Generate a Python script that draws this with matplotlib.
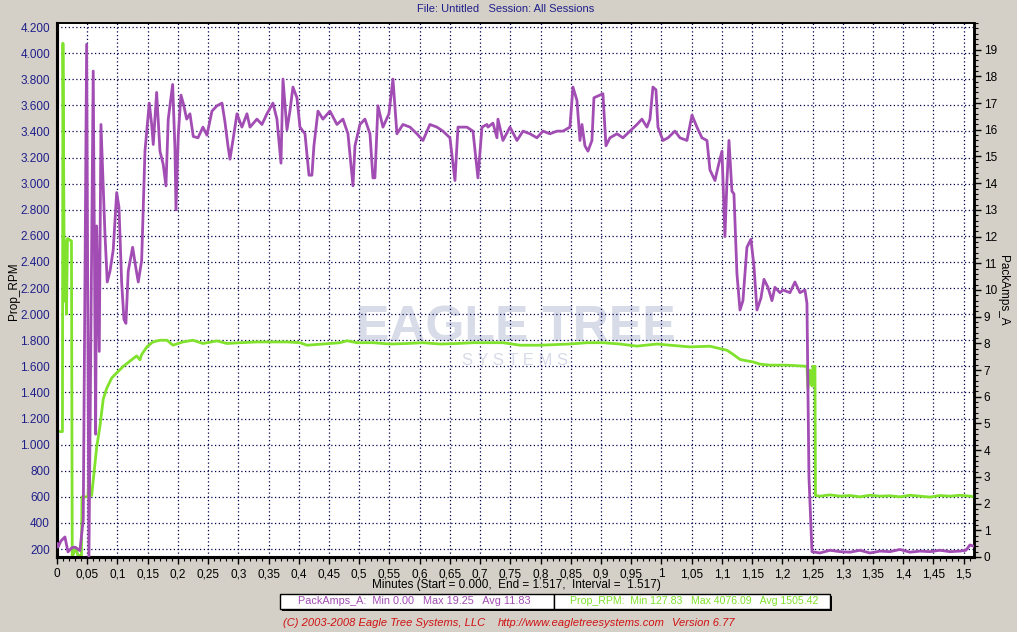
import numpy as np
import matplotlib.pyplot as plt
from matplotlib.ticker import FixedLocator, MultipleLocator, FuncFormatter
from matplotlib.patches import Rectangle

plt.rcParams['font.family'] = ['Liberation Sans', 'DejaVu Sans']

# PackAmps_A (right axis), minutes vs amps
amps_t = [0.000, 0.0017, 0.0066, 0.0132, 0.0182, 0.0248, 0.0298, 0.0380, 0.0435, 0.0463,
          0.0491, 0.0529, 0.0600, 0.0640, 0.0657, 0.0700, 0.0728, 0.0756, 0.0794, 0.0832,
          0.0877, 0.0931, 0.0988, 0.1026, 0.1070, 0.1108, 0.1141, 0.1179, 0.1252, 0.1307,
          0.1345, 0.1401, 0.1456, 0.1527, 0.1567, 0.1593, 0.1649, 0.1704, 0.1758, 0.1803,
          0.1841, 0.1914, 0.1952, 0.1969, 0.2007, 0.2051, 0.2089, 0.2146, 0.2200, 0.2255,
          0.2333, 0.2415, 0.2481, 0.2564, 0.2647, 0.2730, 0.2779, 0.2829, 0.2862, 0.2911,
          0.2978, 0.3060, 0.3143, 0.3193, 0.3308, 0.3391, 0.3474, 0.3573, 0.3639, 0.3706,
          0.3739, 0.3805, 0.3854, 0.3904, 0.3970, 0.4020, 0.4103, 0.4169, 0.4218, 0.4251,
          0.4318, 0.4400, 0.4516, 0.4632, 0.4731, 0.4814, 0.4897, 0.4930, 0.5012, 0.5095,
          0.5178, 0.5227, 0.5260, 0.5310, 0.5393, 0.5492, 0.5558, 0.5624, 0.5724, 0.5840,
          0.5955, 0.6055, 0.6170, 0.6286, 0.6385, 0.6501, 0.6584, 0.6634, 0.6782, 0.6882,
          0.6964, 0.7031, 0.7113, 0.7130, 0.7213, 0.7279, 0.7295, 0.7378, 0.7494, 0.7610,
          0.7709, 0.7825, 0.7940, 0.8040, 0.8155, 0.8271, 0.8371, 0.8486, 0.8536, 0.8602,
          0.8652, 0.8685, 0.8734, 0.8784, 0.8850, 0.8883, 0.8983, 0.9032, 0.9082, 0.9148,
          0.9264, 0.9363, 0.9479, 0.9595, 0.9677, 0.9760, 0.9810, 0.9859, 0.9909, 0.9942,
          1.0025, 1.0108, 1.0223, 1.0306, 1.0422, 1.0505, 1.0587, 1.0670, 1.0753, 1.0802,
          1.0885, 1.0935, 1.1001, 1.1050, 1.1084, 1.1117, 1.1166, 1.1199, 1.1249, 1.1299,
          1.1348, 1.1414, 1.1480, 1.1530, 1.1580, 1.1646, 1.1696, 1.1762, 1.1828, 1.1877,
          1.1960, 1.2010, 1.2126, 1.2208, 1.2291, 1.2374, 1.2407, 1.2440, 1.2490, 1.2622,
          1.2787, 1.2953, 1.3118, 1.3284, 1.3449, 1.3615, 1.3780, 1.3945, 1.4111, 1.4276,
          1.4442, 1.4607, 1.4773, 1.4938, 1.5037, 1.5103, 1.5170]
amps = [0.5, 0.37, 0.6, 0.75, 0.19, 0.35, 0.37, 0.24, 1.4, 10.6,
        19.2, 0.0, 18.2, 4.6, 12.4, 7.7, 16.2, 14.5, 12.1, 10.3,
        10.7, 11.5, 13.65, 13.1, 10.3, 8.9, 8.75, 10.7, 11.6, 10.8,
        10.3, 11.1, 15.2, 17.0, 16.2, 15.45, 17.4, 15.2, 14.7, 13.9,
        16.4, 17.7, 15.3, 13.0, 15.8, 17.3, 17.0, 16.4, 16.6, 15.75,
        15.7, 16.1, 15.8, 16.7, 16.9, 17.0, 16.3, 15.4, 14.9, 15.6,
        16.6, 16.1, 16.6, 16.1, 16.4, 16.2, 16.6, 17.0, 16.4, 14.75,
        17.9, 16.0, 16.7, 17.6, 17.2, 16.1, 15.85, 14.3, 14.3, 15.4,
        16.7, 16.4, 16.7, 16.2, 16.4, 15.85, 13.9, 15.4, 16.2, 16.4,
        15.85, 14.2, 14.2, 16.9, 16.1, 16.6, 17.9, 15.85, 16.2, 16.1,
        15.85, 15.6, 16.2, 16.1, 15.95, 15.7, 14.1, 16.1, 16.1, 15.95,
        14.2, 16.1, 16.2, 16.1, 16.25, 15.7, 16.4, 15.6, 16.1, 15.6,
        15.95, 15.85, 15.7, 15.95, 15.85, 15.95, 15.95, 16.1, 17.6, 17.1,
        15.6, 16.2, 15.4, 15.2, 15.6, 17.2, 17.3, 17.35, 15.4, 15.7,
        15.85, 15.7, 15.95, 16.2, 16.4, 16.1, 16.4, 17.6, 17.5, 16.1,
        15.6, 15.7, 15.95, 15.7, 15.6, 16.55, 16.1, 15.7, 15.6, 14.5,
        14.1, 14.6, 15.2, 12.0, 14.1, 15.6, 13.7, 13.6, 10.6, 9.25,
        9.6, 11.6, 11.9, 10.9, 9.25, 9.7, 10.4, 10.1, 9.6, 10.1,
        9.9, 10.0, 9.9, 10.3, 9.9, 10.0, 9.5, 3.0, 0.2, 0.15,
        0.25, 0.2, 0.18, 0.25, 0.15, 0.22, 0.2, 0.28, 0.18, 0.22,
        0.2, 0.25, 0.2, 0.22, 0.25, 0.45, 0.4]

# Prop_RPM (left axis), minutes vs rpm
rpm_t = [0.000, 0.0091, 0.0099, 0.0124, 0.0141, 0.0157, 0.0174, 0.0240, 0.0253, 0.0314,
         0.0347, 0.0405, 0.0414, 0.0513, 0.0529, 0.0554, 0.0574, 0.0657, 0.0711, 0.0766,
         0.0822, 0.0905, 0.0988, 0.1097, 0.1208, 0.1318, 0.1373, 0.1401, 0.1489, 0.1588,
         0.1704, 0.1820, 0.1919, 0.2084, 0.2250, 0.2415, 0.2647, 0.2812, 0.3027, 0.3308,
         0.3573, 0.3805, 0.4020, 0.4136, 0.4400, 0.4681, 0.4797, 0.4963, 0.5227, 0.5509,
         0.5790, 0.6055, 0.6336, 0.6617, 0.6882, 0.7378, 0.7659, 0.7990, 0.8486, 0.8767,
         0.9032, 0.9313, 0.9595, 0.9926, 1.0141, 1.0471, 1.0802, 1.0968, 1.1084, 1.1166,
         1.1299, 1.1414, 1.1514, 1.1629, 1.1794, 1.2076, 1.2341, 1.2407, 1.2424, 1.2457,
         1.2490, 1.2506, 1.2539, 1.2548, 1.2622, 1.2787, 1.2953, 1.3118, 1.3284, 1.3449,
         1.3615, 1.3780, 1.3945, 1.4111, 1.4276, 1.4442, 1.4607, 1.4773, 1.4938, 1.5103,
         1.5170]
rpm = [1100, 1100, 4076, 2100, 2560, 2000, 2580, 2560, 140, 210,
       150, 150, 600, 600, 740, 620, 610, 980, 1140, 1350,
       1430, 1510, 1550, 1600, 1640, 1680, 1650, 1690, 1750, 1787,
       1800, 1800, 1762, 1787, 1800, 1775, 1795, 1775, 1781, 1787,
       1787, 1787, 1781, 1762, 1771, 1781, 1796, 1781, 1781, 1771,
       1775, 1781, 1771, 1775, 1781, 1781, 1762, 1762, 1771, 1781,
       1781, 1771, 1755, 1771, 1762, 1749, 1754, 1736, 1723, 1698,
       1653, 1642, 1634, 1617, 1609, 1609, 1602, 1600, 1430, 1570,
       1450, 1600, 1600, 610, 605, 615, 605, 610, 600, 612,
       605, 608, 600, 612, 605, 598, 610, 605, 612, 605,
       600]

x_ticks = np.round(np.arange(0, 1.5001, 0.05), 2)
rpm_ticks = list(range(200, 4201, 200))
amp_ticks = list(range(0, 20))

bg = '#d4d0c8'
purple = '#a24db3'
green = '#80e22c'
navy = '#1f1f8a'

fig = plt.figure(figsize=(10.17, 6.32), dpi=100, facecolor=bg)
ax = fig.add_axes([0.0560, 0.1187, 0.9017, 0.8449])
ax.set_facecolor('white')
ax2 = ax.twinx()

ax.plot(rpm_t, rpm, color=green, lw=2, zorder=3)
ax2.plot(amps_t, amps, color=purple, lw=2, zorder=3)

ax.set_xlim(0, 1.517)
ax.set_ylim(139, 4231)
ax2.set_ylim(0, 20)

def comma_fmt(v, pos):
    s = ('%.2f' % v).rstrip('0').rstrip('.')
    return s.replace('.', ',')

def thousand_fmt(v, pos):
    v = int(round(v))
    if v >= 1000:
        return '%d.%03d' % (v // 1000, v % 1000)
    return str(v)

ax.xaxis.set_major_locator(FixedLocator(x_ticks))
ax.xaxis.set_major_formatter(FuncFormatter(comma_fmt))
ax.xaxis.set_minor_locator(MultipleLocator(0.01))
ax.yaxis.set_major_locator(FixedLocator(rpm_ticks))
ax.yaxis.set_major_formatter(FuncFormatter(thousand_fmt))
ax2.yaxis.set_major_locator(FixedLocator(amp_ticks))
ax2.yaxis.set_minor_locator(MultipleLocator(0.2))

ax.tick_params(axis='x', labelsize=8.5, length=5, width=1, pad=3, colors='black')
ax.tick_params(axis='x', which='minor', length=3, width=0.8)
ax.tick_params(axis='y', labelsize=8.5, length=0, pad=5, labelcolor=navy)
ax2.tick_params(axis='y', labelsize=8.5, length=5, width=1, pad=2, colors='black')
ax2.tick_params(axis='y', which='minor', length=3, width=0.8)

ax.grid(True, color='#00004a', linestyle=(0, (1, 2)), linewidth=0.9, zorder=1)
ax.set_axisbelow(True)

for a in (ax, ax2):
    a.spines['left'].set_linewidth(2.2)
    a.spines['bottom'].set_linewidth(2.2)
    a.spines['right'].set_linewidth(1.8)
    a.spines['top'].set_linewidth(1.2)

# faint watermark
ax.text(0.5, 0.429, 'EAGLE TREE', transform=ax.transAxes, ha='center', va='center',
        fontsize=36, fontweight='bold', color='#d8dbe8', zorder=0.5)
ax.text(0.5, 0.368, 'S Y S T E M S', transform=ax.transAxes, ha='center', va='center',
        fontsize=12, color='#d8dbe8', zorder=0.5)

fig.text(0.497, 0.986, 'File: Untitled   Session: All Sessions', ha='center', va='center',
         fontsize=8, color=navy)
fig.text(0.508, 0.074, 'Minutes (Start = 0.000,  End = 1.517,  Interval =  1.517)',
         ha='center', va='center', fontsize=8.5)
fig.text(0.014, 0.54, 'Prop_RPM', rotation=90, ha='center', va='center', fontsize=8.5)
fig.text(0.986, 0.54, 'PackAmps_A', rotation=270, ha='center', va='center', fontsize=8.5)

# stats boxes
for x0, w in ((280, 274), (554, 276)):
    fig.patches.append(Rectangle((x0 / 1017 + 0.002, 1 - 611 / 632), w / 1017, 15 / 632,
                                 transform=fig.transFigure, facecolor='black', edgecolor='none'))
    fig.patches.append(Rectangle((x0 / 1017, 1 - 609 / 632), w / 1017, 15 / 632,
                                 transform=fig.transFigure, facecolor='white',
                                 edgecolor='black', lw=1))
fig.text(298 / 1017, 1 - 601 / 632, 'PackAmps_A:  Min 0.00   Max 19.25   Avg 11.83',
         ha='left', va='center', fontsize=7.8, color=purple)
fig.text(570 / 1017, 1 - 601 / 632, 'Prop_RPM:  Min 127.83   Max 4076.09   Avg 1505.42',
         ha='left', va='center', fontsize=7.6, color=green)

red = '#d01010'
fig.text(283 / 1017, 1 - 623 / 632, '(C) 2003-2008 Eagle Tree Systems, LLC',
         ha='left', va='center', fontsize=8, color=red, style='italic')
fig.text(498 / 1017, 1 - 623 / 632, 'http://www.eagletreesystems.com',
         ha='left', va='center', fontsize=8, color=red, style='italic')
fig.text(672 / 1017, 1 - 623 / 632, 'Version 6.77',
         ha='left', va='center', fontsize=8, color=red, style='italic')

fig.savefig('out.png', dpi=100, facecolor=bg)
